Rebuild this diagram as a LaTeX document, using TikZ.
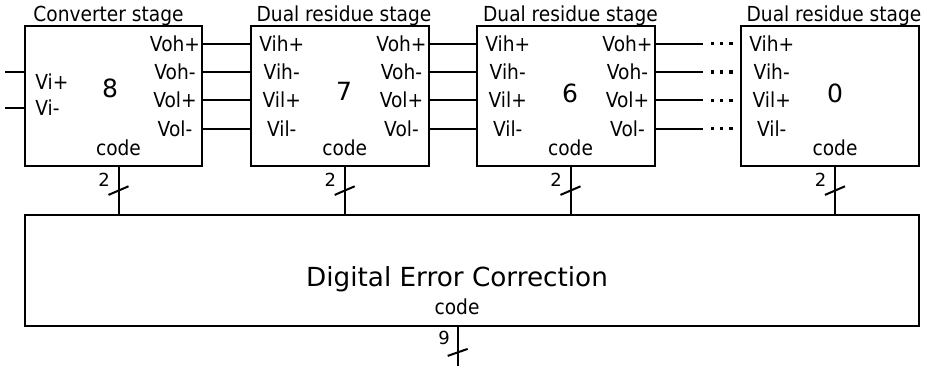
\documentclass[tikz,border=0pt]{standalone}
\usepackage{fontspec}
\setmainfont{DejaVu Sans}
\newfontfamily\condfont[FakeStretch=0.9]{DejaVu Sans}
\usetikzlibrary{positioning, calc}

\tikzset{
    stage/.style={draw, line width=1.5pt, minimum width=133pt, minimum height=105.5pt, inner sep=0pt},
    port/.style={font=\condfont\fontsize{15.5}{18}\selectfont, inner sep=0pt, text height=11.3pt, text depth=0pt},
    width/.style={font=\fontsize{13.5}{16}\selectfont, inner sep=0pt, text height=9.8pt, text depth=0pt},
    num/.style={font=\fontsize{18.8}{22}\selectfont, inner sep=0pt},
    wire/.style={line width=1.5pt},
}

\begin{document}
\begin{tikzpicture}[x=0.75pt, y=-0.75pt]
\useasboundingbox (0,0) rectangle (927,366);

% Stages
\node[stage] (s8) at (113.5,96) {};
\node[stage] (s7) at (340,96) {};
\node[stage] (s6) at (566,96) {};
\node[stage] (s0) at (830,96) {};
% Correction block
\node[stage, minimum width=670.5pt, minimum height=83.3pt] (dec) at (472,270.4) {};

% Titles
\node[port, anchor=base] (t8) at (108.5,21.7) {Converter stage};
\foreach \s/\x in {7/344, 6/570.5, 0/834} {
    \node[port, anchor=base] (t\s) at (\x,21.7) {Dual residue stage};
}

% Stage numbers and code outputs
\foreach \s/\x/\y in {8/110/88.5, 7/344/91, 6/570/93, 0/835/93} {
    \node[num] (n\s) at (\x,\y) {\s};
}
\foreach \s/\x in {8/118.5, 7/344.7, 6/570.5, 0/835} {
    \node[port, anchor=base] (c\s) at (\x,156) {code};
}

% Inputs of the converter
\node[port, anchor=west] (vip) at (35,81.7) {Vi+};
\node[port, anchor=west] (vim) at (35,107.5) {Vi-};
\coordinate (inp) at (5,71.7);
\coordinate (inm) at (5,108.3);
\draw[wire] (inp) -- (inp -| s8.west);
\draw[wire] (inm) -- (inm -| s8.west);

% Port labels
\foreach \s/\x in {7/340, 6/566, 0/830} {
    \foreach \t/\y [count=\k] in {Vih+/43.7, Vih-/72, Vil+/100.3, Vil-/128.7} {
        \node[port] (i\s-\k) at (\x-58.3,\y) {\t};
    }
}
\foreach \s/\x in {8/113.5, 7/340, 6/566} {
    \foreach \t/\y [count=\k] in {Voh+/43.7, Voh-/72, Vol+/100.3, Vol-/128.7} {
        \node[port] (o\s-\k) at (\x+61.5,\y) {\t};
    }
}

% Residue wires
\foreach \a/\b in {8/7, 7/6} {
    \foreach \k in {1,...,4} {
        \draw[wire] (o\a-\k -| s\a.east) -- (o\a-\k -| s\b.west);
    }
}
% Wires to the last stage, broken
\foreach \k/\y in {1/43.7, 2/72, 3/100.3, 4/128.7} {
    \coordinate (e\k) at (703.3,\y);
    \draw[wire] (o6-\k -| s6.east) -- (e\k);
    \foreach \x in {712.3, 721.7, 731} {
        \fill (\x-1.7,\y-1.7) rectangle (\x+1.7,\y+1.7);
    }
}

% Code buses
\foreach \s in {8,7,6,0} {
    \draw[wire] (c\s |- s\s.south) -- (c\s |- dec.north) coordinate[midway] (m\s);
    \draw[wire] ($(m\s)+(-10,4.3)$) -- ($(m\s)+(10,-4.3)$);
    \node[width] (w\s) at ($(m\s)+(-14.3,-11)$) {2};
}

% Correction block texts and output
\node[font=\fontsize{19.7}{23}\selectfont, inner sep=0pt, anchor=base] (dect) at (457,286.7) {Digital Error Correction};
\node[port, anchor=base] (decc) at (457,315) {code};
\coordinate (out) at (457.7,368);
\draw[wire] (dec.south -| out) -- (out) coordinate[pos=0.62] (m9);
\draw[wire] ($(m9)+(-10,3.5)$) -- ($(m9)+(10,-3.5)$);
\node[width] (w9) at ($(m9)+(-13.5,-14)$) {9};

\end{tikzpicture}
\end{document}
